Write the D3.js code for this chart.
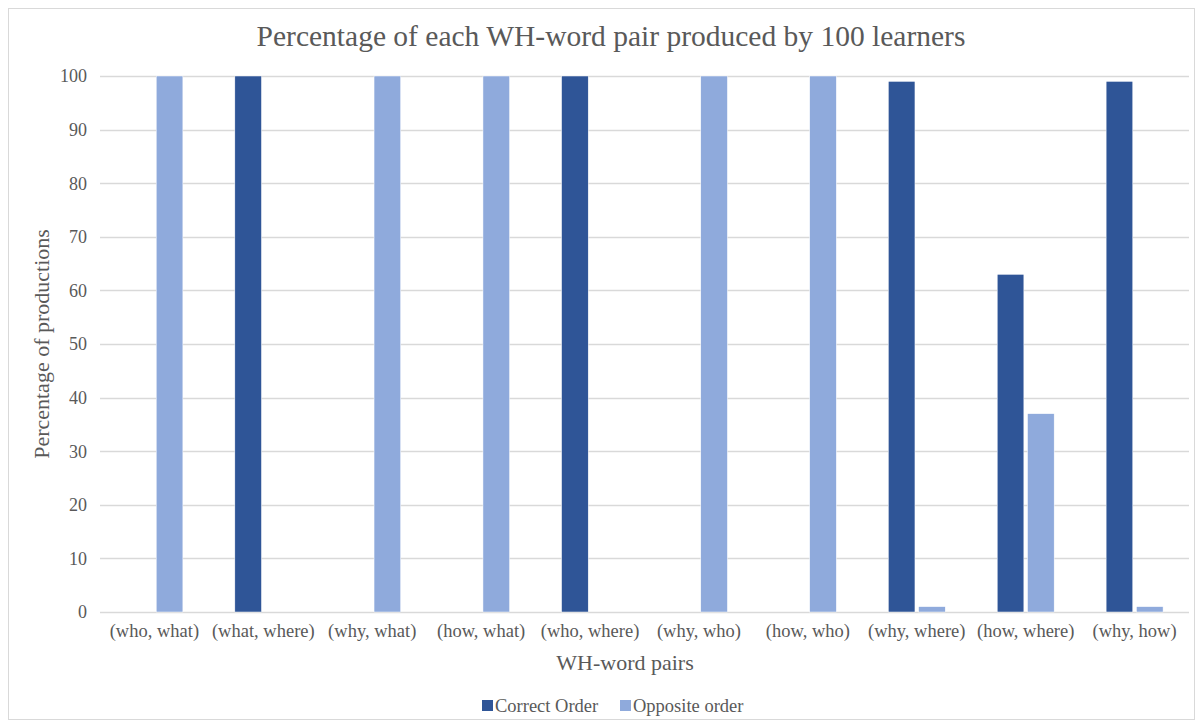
<!DOCTYPE html>
<html lang="en">
    <head>
        <title>WH-word pairs</title>
        <meta charset="UTF-8">
    </head>
    <style>
        body { margin: 0; background: #fff; }
        text { font-family: "Liberation Serif", "Times New Roman", serif; fill: #595959; }
    </style>
    <script src="https://d3js.org/d3.v7.min.js"></script>
    <body>
        <script>
            const categories = ["(who, what)", "(what, where)", "(why, what)", "(how, what)", "(who, where)",
                                "(why, who)", "(how, who)", "(why, where)", "(how, where)", "(why, how)"]
            const seriesNames = ["Correct Order", "Opposite order"]
            const correctOrder = [0, 100, 0, 0, 100, 0, 0, 99, 63, 99]
            const oppositeOrder = [100, 0, 100, 100, 0, 100, 100, 1, 37, 1]
            const yTicks = [0, 10, 20, 30, 40, 50, 60, 70, 80, 90, 100]

            const width = 1203
            const height = 726
            const margin = { left: 100, right: 14, top: 76, bottom: 114 }
            const colors = ["#2F5597", "#8FAADC"]

            const svg = d3.select("body").append("svg")
                .attr("width", width)
                .attr("height", height)

            // chart border
            svg.append("rect")
                .attr("x", 8.5).attr("y", 8.5)
                .attr("width", 1186).attr("height", 711)
                .attr("fill", "#fff")
                .attr("stroke", "#d9d9d9")

            const x = d3.scaleBand()
                .domain(categories)
                .range([margin.left, width - margin.right])
                .paddingInner(0.477)
                .paddingOuter(0.238)

            const x1 = d3.scaleBand()
                .domain(seriesNames)
                .range([0, x.bandwidth()])
                .paddingInner(0.12)

            const y = d3.scaleLinear()
                .domain([0, 100])
                .range([height - margin.bottom, margin.top])

            // gridlines
            svg.append("g")
                .selectAll("line")
                .data(yTicks)
                .join("line")
                .attr("x1", margin.left)
                .attr("x2", width - margin.right)
                .attr("y1", d => Math.round(y(d)) + 0.5)
                .attr("y2", d => Math.round(y(d)) + 0.5)
                .attr("stroke", "#d9d9d9")
                .attr("stroke-width", 1.3)

            // y tick labels
            svg.append("g")
                .selectAll("text")
                .data(yTicks)
                .join("text")
                .attr("x", 87)
                .attr("y", d => y(d))
                .attr("dy", "0.35em")
                .attr("text-anchor", "end")
                .style("font-size", "18px")
                .text(d => d)

            // bars
            const rows = categories.map((c, i) => ({ cat: c, values: [correctOrder[i], oppositeOrder[i]] }))
            const groups = svg.append("g")
                .selectAll("g")
                .data(rows)
                .join("g")
                .attr("transform", d => `translate(${x(d.cat)},0)`)

            groups.selectAll("rect")
                .data(d => d.values.map((v, j) => ({ name: seriesNames[j], value: v, j: j })))
                .join("rect")
                .filter(d => d.value > 0)
                .attr("x", d => x1(d.name))
                .attr("width", x1.bandwidth())
                .attr("y", d => y(d.value))
                .attr("height", d => y(0) - y(d.value))
                .attr("fill", d => colors[d.j])
                .attr("stroke", "#fff")
                .attr("stroke-width", 0.5)

            // x labels
            svg.append("g")
                .selectAll("text")
                .data(categories)
                .join("text")
                .attr("x", d => x(d) + x.bandwidth() / 2)
                .attr("y", 637)
                .attr("text-anchor", "middle")
                .style("font-size", "18.5px")
                .text(d => d)

            // title
            svg.append("text")
                .attr("x", 611)
                .attr("y", 46)
                .attr("text-anchor", "middle")
                .style("font-size", "29.5px")
                .text("Percentage of each WH-word pair produced by 100 learners")

            // axis titles
            svg.append("text")
                .attr("x", 625)
                .attr("y", 670)
                .attr("text-anchor", "middle")
                .style("font-size", "22px")
                .text("WH-word pairs")

            svg.append("text")
                .attr("transform", "translate(49,344) rotate(-90)")
                .attr("text-anchor", "middle")
                .style("font-size", "22px")
                .text("Percentage of productions")

            // legend
            const legendX = [482, 620]
            const legend = svg.append("g")
                .selectAll("g")
                .data(seriesNames)
                .join("g")
                .attr("transform", (d, i) => `translate(${legendX[i]},700)`)
            legend.append("rect")
                .attr("width", 11).attr("height", 11)
                .attr("fill", (d, i) => colors[i])
            legend.append("text")
                .attr("x", 13)
                .attr("y", 12)
                .style("font-size", "18.5px")
                .text(d => d)
        </script>
    </body>
</html>
